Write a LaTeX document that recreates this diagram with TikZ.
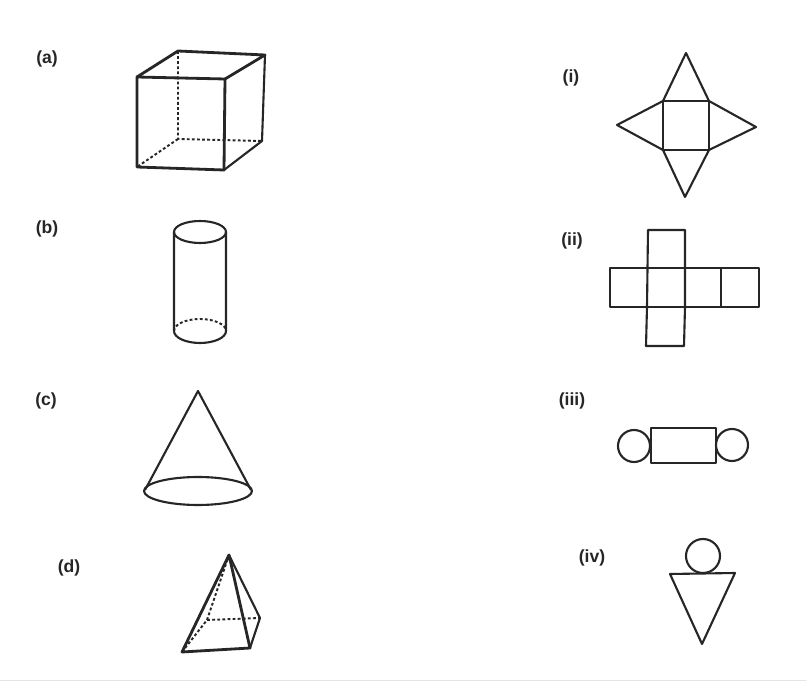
\documentclass[tikz,border=0pt]{standalone}
\usepackage{fontspec}
\setmainfont{Liberation Sans}
\definecolor{inkgray}{HTML}{262626}
\definecolor{rulegray}{HTML}{E4E4E4}
\tikzset{
  partlabel/.style={font=\bfseries\fontsize{10}{12}\selectfont,text=inkgray,inner sep=0pt},
  solidline/.style={draw=inkgray,line width=1.2pt,line join=round},
  heavyline/.style={draw=inkgray,line width=1.6pt,line join=round},
  hiddenline/.style={draw=inkgray,line width=1.1pt,dash pattern=on 1.6pt off 1.3pt},
}
\begin{document}
\begin{tikzpicture}[x=0.2mm,y=-0.2mm]
  \useasboundingbox (0,0) rectangle (806,681);
  \fill[white] (0,0) rectangle (806,681);
  \draw[rulegray,line width=0.5pt] (0,680.5) -- (806,680.5);
  % labels
  \node[partlabel] (lblA) at (47,59) {(a)};
  \node[partlabel] (lblB) at (47,229) {(b)};
  \node[partlabel] (lblC) at (46,401) {(c)};
  \node[partlabel] (lblD) at (69,568) {(d)};
  \node[partlabel] (lblI) at (571,78) {(i)};
  \node[partlabel] (lblII) at (572,241) {(ii)};
  \node[partlabel] (lblIII) at (572,401) {(iii)};
  \node[partlabel] (lblIV) at (592,558) {(iv)};
  % cube
  \draw[hiddenline] (178,51) -- (178,139) -- (262,141);
  \draw[hiddenline] (178,139) -- (137,167);
  \draw[heavyline] (137,77) -- (225,79) -- (224,170) -- (137,167) -- cycle;
  \draw[heavyline] (137,77) -- (178,51) -- (265,55) -- (225,79);
  \draw[solidline] (265,55) -- (262,141) -- (224,170);
  % cylinder
  \draw[solidline] (200,232) ellipse (26 and 11);
  \draw[solidline] (174,232) -- (174,331) arc[start angle=180,end angle=360,x radius=26,y radius=-12] -- (226,232);
  \draw[hiddenline] (174,331) arc[start angle=180,end angle=0,x radius=26,y radius=-12];
  % cone
  \draw[solidline] (145,490) -- (198,391) -- (251,490);
  \draw[solidline] (198,491) ellipse (54 and 14);
  % pyramid
  \draw[hiddenline] (182,652) -- (207,620) -- (260,618);
  \draw[hiddenline] (207,620) -- (229,555);
  \draw[heavyline] (229,555) -- (182,652) -- (250,648) -- cycle;
  \draw[solidline] (229,555) -- (260,618) -- (250,648);
  % net i
  \draw[solidline] (663,101) rectangle (709,150);
  \draw[solidline] (663,101) -- (686,53) -- (709,101) -- (756,127) -- (709,150) -- (685,197) -- (663,150) -- (617,125) -- cycle;
  % net ii
  \draw[solidline] (610,268) rectangle (759,307);
  \draw[solidline] (647,307) -- (648,230) -- (685,230) -- (685,307);
  \draw[solidline] (647,307) -- (646,346) -- (684,346) -- (685,307);
  \draw[solidline] (721,268) -- (721,307);
  % net iii
  \draw[solidline] (651,428) rectangle (716,463);
  \draw[solidline] (634,446) circle (16);
  \draw[solidline] (732,445) circle (16);
  % net iv
  \draw[solidline] (703,556) circle (17);
  \draw[solidline] (670,574) -- (735,573) -- (702,644) -- cycle;
\end{tikzpicture}
\end{document}
